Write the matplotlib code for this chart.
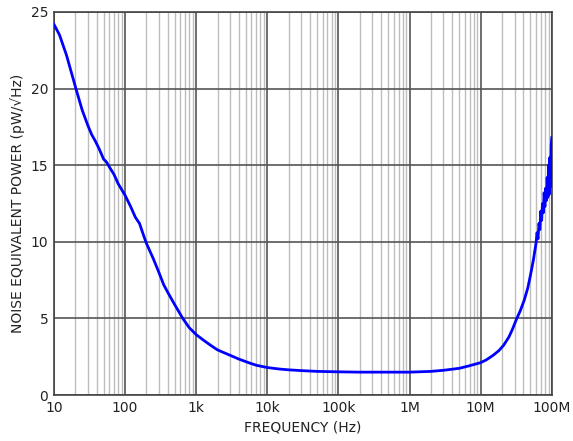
import numpy as np
import matplotlib
matplotlib.use("Agg")
import matplotlib.pyplot as plt
from matplotlib.ticker import FixedLocator, LogLocator, NullFormatter

# frequency (Hz) and noise equivalent power (pW/sqrt(Hz))
freq = [10, 12, 15, 18, 20.4, 25, 30, 34, 38, 43, 50, 55, 60, 70, 80, 90,
        100, 120, 140, 160, 180, 200, 250, 300, 350, 400, 500, 650, 800,
        1e3, 1.3e3, 1.6e3, 2e3, 3e3, 4e3, 5.6e3, 7e3,
        1e4, 1.5e4, 2e4, 3e4, 5e4, 1e5, 2e5, 5e5,
        1e6, 2e6, 3e6, 5e6, 7e6, 1e7, 1.2e7, 1.5e7, 1.8e7, 2.1e7, 2.5e7, 2.8e7,
        3.15e7, 3.6e7, 4.1e7, 4.6e7, 5e7, 5.5e7, 6e7, 6.2e7, 6.4e7, 6.6e7, 6.8e7,
        7e7, 7.2e7, 7.4e7, 7.6e7, 7.8e7, 8e7, 8.2e7, 8.4e7, 8.6e7, 8.8e7,
        9e7, 9.2e7, 9.4e7, 9.6e7, 9.8e7, 1e8]
nep = [24.2, 23.5, 22.2, 20.9, 20.0, 18.6, 17.6, 17.0, 16.6, 16.1, 15.4, 15.2, 14.9, 14.4, 13.8, 13.4,
       13.05, 12.3, 11.6, 11.2, 10.5, 9.9, 8.9, 8.0, 7.2, 6.7, 5.9, 5.0, 4.4,
       3.95, 3.55, 3.25, 2.95, 2.6, 2.35, 2.1, 1.95,
       1.8, 1.7, 1.65, 1.6, 1.55, 1.52, 1.5, 1.5,
       1.5, 1.55, 1.62, 1.75, 1.92, 2.12, 2.3, 2.6, 2.9, 3.25, 3.8, 4.3,
       4.9, 5.5, 6.2, 7.0, 7.8, 8.8, 9.9, 10.6, 10.2, 11.2, 10.8,
       12.0, 11.4, 12.5, 11.9, 13.2, 12.3, 13.5, 12.7, 14.2, 12.9,
       15.0, 13.1, 15.5, 13.6, 16.3, 16.8]

xticks = [10, 100, 1e3, 1e4, 1e5, 1e6, 1e7, 1e8]
xtick_labels = ["10", "100", "1k", "10k", "100k", "1M", "10M", "100M"]
yticks = [0, 5, 10, 15, 20, 25]

fig = plt.figure(figsize=(5.73, 4.41), dpi=100)
ax = fig.add_axes([0.094, 0.104, 0.869, 0.869])

ax.plot(freq, nep, color="#0000ff", lw=2.0, zorder=3)

ax.set_xscale("log")
ax.set_xlim(10, 1e8)
ax.set_ylim(0, 25)
ax.xaxis.set_major_locator(FixedLocator(xticks))
ax.set_xticklabels(xtick_labels)
ax.xaxis.set_minor_locator(LogLocator(base=10, subs=np.arange(2, 10)))
ax.xaxis.set_minor_formatter(NullFormatter())
ax.set_yticks(yticks)

ax.grid(True, which="major", color="#555555", lw=1.2)
ax.grid(True, which="minor", axis="x", color="#bdbdbd", lw=1.0)
ax.tick_params(which="both", length=0, labelsize=10, pad=4, colors="#222222")

for s in ax.spines.values():
    s.set_color("#444444")
    s.set_linewidth(1.2)

ax.set_xlabel("FREQUENCY (Hz)", fontsize=10, color="#222222")
ax.set_ylabel("NOISE EQUIVALENT POWER (pW/\u221aHz)", fontsize=10, color="#222222")

fig.savefig("out.png", dpi=100)
